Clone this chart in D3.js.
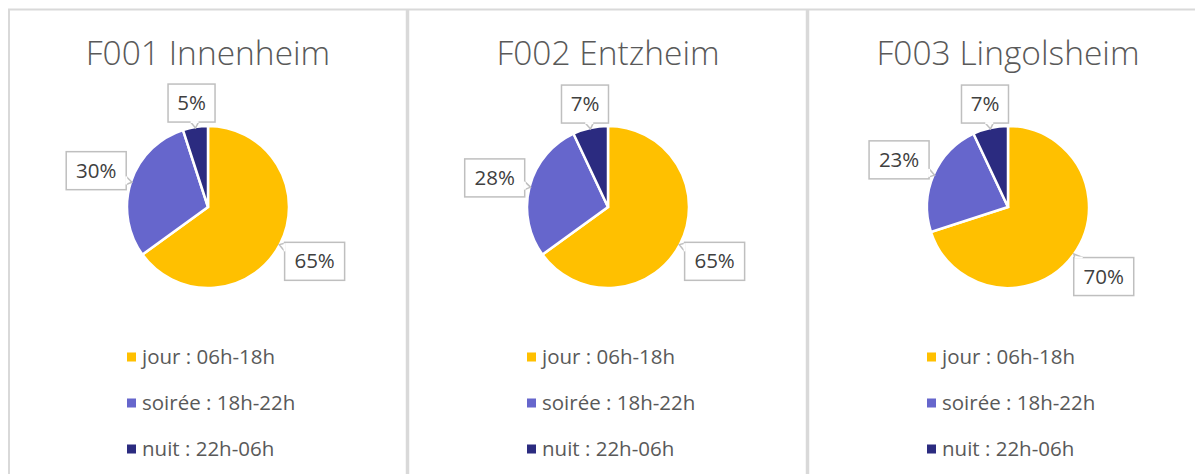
<!DOCTYPE html>
<html lang="fr">

<head>
    <meta charset="UTF-8">
    <title>pie charts</title>
    <style>
        body { margin: 0; background: #fff; }
        svg { display: block; }
    </style>
</head>

<body>
    <svg id="chart"></svg>

    <script src="https://d3js.org/d3.v7.min.js"></script>
    <script>
        const stations = ['F001 Innenheim', 'F002 Entzheim', 'F003 Lingolsheim']
        const periods = ['jour : 06h-18h', 'soirée : 18h-22h', 'nuit : 22h-06h']
        const f001 = [65, 30, 5]
        const f002 = [65, 28, 7]
        const f003 = [70, 23, 7]
        const colors = ['#FFC000', '#6666CC', '#2B2B80']

        const W = 1195, H = 474
        const font = '"Open Sans", "Noto Sans", sans-serif'

        function render() {
            const svg = d3.select('#chart').attr('width', W).attr('height', H)
            const series = [f001, f002, f003]

            // panneaux
            const panelX = d3.scaleBand().domain(stations).range([8, 1208])
            const color = d3.scaleOrdinal().domain(periods).range(colors)
            const r = 81

            svg.append('line').attr('x1', 8).attr('x2', W).attr('y1', 9.5).attr('y2', 9.5)
                .attr('stroke', '#d9d9d9').attr('stroke-width', 2)
            stations.forEach((s, i) => {
                const x0 = panelX(s)
                svg.append('line').attr('x1', x0 + (i ? -0.5 : 1)).attr('x2', x0 + (i ? -0.5 : 1))
                    .attr('y1', 9).attr('y2', H)
                    .attr('stroke', '#d9d9d9').attr('stroke-width', i ? 3.5 : 2)
            })

            const pie = d3.pie().sort(null).value(d => d.v)
            const arc = d3.arc().innerRadius(0).outerRadius(r)

            stations.forEach((s, i) => {
                const cx = panelX(s) + panelX.bandwidth() / 2
                const cy = 207
                const g = svg.append('g').attr('transform', `translate(${cx},${cy})`)
                const data = periods.map((p, j) => ({ p: p, v: series[i][j] }))
                const arcs = pie(data)

                // titre
                svg.append('text')
                    .attr('x', cx).attr('y', 65)
                    .attr('text-anchor', 'middle')
                    .attr('font-family', font).attr('font-size', 33.5).attr('font-weight', 300)
                    .attr('fill', '#595959')
                    .text(s)

                g.selectAll('path.slice')
                    .data(arcs)
                    .join('path')
                    .attr('class', 'slice')
                    .attr('d', arc)
                    .attr('fill', d => color(d.data.p))
                    .attr('stroke', '#fff')
                    .attr('stroke-width', 2.5)
                    .attr('stroke-linejoin', 'miter')

                // étiquettes
                arcs.forEach(d => {
                    const label = d.data.v + '%'
                    const bw = label.length > 2 ? 60 : 47
                    const bh = 38
                    const a = (d.startAngle + d.endAngle) / 2
                    const ux = Math.sin(a), uy = -Math.cos(a)
                    const ext = Math.min(bw / 2 / Math.abs(ux || 1e-6), bh / 2 / Math.abs(uy || 1e-6))
                    const dist = r + 5 + ext
                    const bx = ux * dist, by = uy * dist

                    const lg = g.append('g')
                    lg.append('rect')
                        .attr('x', bx - bw / 2).attr('y', by - bh / 2)
                        .attr('width', bw).attr('height', bh)
                        .attr('fill', '#fff').attr('stroke', '#bfbfbf').attr('stroke-width', 1.5)

                    // petite pointe vers le secteur
                    const ax = ux * (r - 4), ay = uy * (r - 4)
                    let dx = ax - bx, dy = ay - by
                    const tx = Math.abs(dx) > 1e-6 ? (bw / 2) / Math.abs(dx) : Infinity
                    const ty = Math.abs(dy) > 1e-6 ? (bh / 2) / Math.abs(dy) : Infinity
                    const t = Math.min(tx, ty)
                    let ex = bx + dx * t, ey = by + dy * t
                    const len = Math.hypot(dx, dy)
                    const nx = dx / len, ny = dy / len
                    let p1, p2
                    if (tx < ty) {
                        const yy = Math.max(by - bh / 2 + 5, Math.min(by + bh / 2 - 5, ey))
                        p1 = [ex, yy - 4]; p2 = [ex, yy + 4]; ey = yy
                    } else {
                        const xx = Math.max(bx - bw / 2 + 5, Math.min(bx + bw / 2 - 5, ex))
                        p1 = [xx - 4, ey]; p2 = [xx + 4, ey]; ex = xx
                    }
                    const tip = [ex + nx * 6, ey + ny * 6]
                    lg.append('path')
                        .attr('d', d3.line()([p1, tip, p2]))
                        .attr('fill', '#fff').attr('stroke', '#bfbfbf').attr('stroke-width', 1.5)
                    lg.append('path')
                        .attr('d', d3.line()([p1, p2]))
                        .attr('stroke', '#fff').attr('stroke-width', 2)

                    lg.append('text')
                        .attr('x', bx).attr('y', by + 7)
                        .attr('text-anchor', 'middle')
                        .attr('font-family', font).attr('font-size', 20.5)
                        .attr('fill', '#404040')
                        .text(label)
                })

                // légende
                const legY = d3.scalePoint().domain(periods).range([357, 449])
                const leg = svg.append('g')
                leg.selectAll('rect')
                    .data(periods)
                    .join('rect')
                    .attr('x', cx - 81).attr('y', d => legY(d) - 4.5)
                    .attr('width', 9).attr('height', 9)
                    .attr('fill', d => color(d))
                leg.selectAll('text')
                    .data(periods)
                    .join('text')
                    .attr('x', cx - 66).attr('y', d => legY(d) + 7)
                    .attr('font-family', font).attr('font-size', 20.5)
                    .attr('fill', '#595959')
                    .text(d => d)
            })
        }

        render()
    </script>
</body>

</html>
